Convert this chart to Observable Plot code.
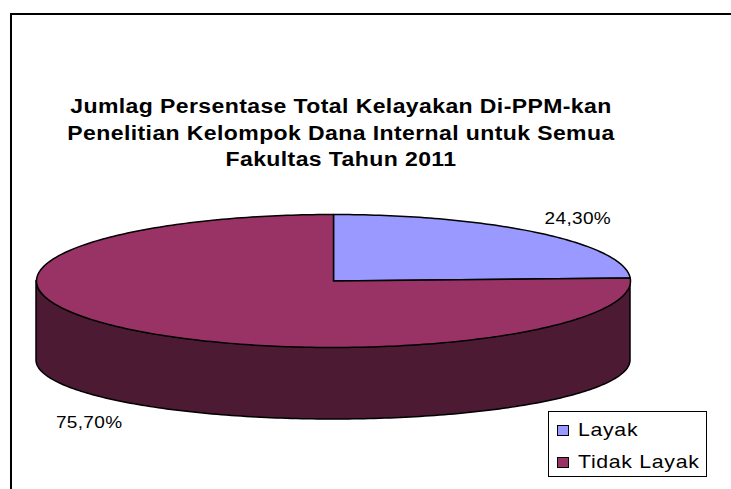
<!DOCTYPE html>
<html>
<head>
<meta charset="utf-8">
<script src="https://cdn.jsdelivr.net/npm/d3@7"></script>
<script src="https://cdn.jsdelivr.net/npm/@observablehq/plot@0.6"></script>
<style>
  html, body { margin: 0; padding: 0; background: #fff; overflow: hidden; }
  #wrap { position: relative; width: 731px; height: 489px; overflow: hidden; font-family: "Liberation Sans", Arial, sans-serif; }
  #frame { position: absolute; left: 10px; top: 13px; width: 800px; height: 600px; border-left: 2px solid #000; border-top: 2px solid #000; box-sizing: border-box; }
  #title { position: absolute; left: 0; top: 93px; width: 682px; text-align: center; font-weight: bold; font-size: 20px; line-height: 26.5px; letter-spacing: 0.35px; color: #000; transform: scaleX(1.15); transform-origin: 341px 0; }
  #legend { position: absolute; left: 548px; top: 411px; width: 159px; height: 66px; border: 1px solid #000; box-sizing: border-box; background: #fff; padding-top: 2px; }
  .item { display: flex; align-items: center; height: 32px; font-size: 18.5px; color: #000; }
  .item span { display: inline-block; letter-spacing: 0.6px; transform: scaleX(1.15); transform-origin: 0 50%; white-space: nowrap; }
  .sw { width: 12px; height: 11px; border: 1px solid #000; box-sizing: border-box; margin-left: 8px; margin-right: 9px; flex: none; }
  #chart { position: absolute; left: 0; top: 0; }
</style>
</head>
<body>
<div id="wrap">
  <div id="chart"></div>
  <div id="frame"></div>
  <div id="title"></div>
  <div id="legend"></div>
</div>
<script>
// ---- data ----
const categories = ["Layak", "Tidak Layak"];
const values = [24.3, 75.7];
const valueLabels = ["24,30%", "75,70%"];
const titleLines = [
  "Jumlag Persentase Total Kelayakan Di-PPM-kan",
  "Penelitian Kelompok Dana Internal untuk Semua",
  "Fakultas Tahun 2011"
];
const topColors = ["#9999FF", "#993366"];
const sideColors = ["#4D4D80", "#4D1A33"];

// ---- layout of the 3D pie (pixels) ----
const cx = 333, cyTop = 280.5, rx = 297, ryTop = 66.5;
const cyBot = 360, ryBot = 59;
const rad = Math.PI / 180;

const total = d3.sum(values);
let acc = 0;
const slices = values.map((v, i) => {
  const a0 = acc / total * 360;
  acc += v;
  const a1 = acc / total * 360;
  return {cat: categories[i], label: valueLabels[i], a0, a1, i};
});

function topPt(t) { return [cx + rx * Math.sin(t * rad), cyTop - ryTop * Math.cos(t * rad)]; }

// top face polygons
const topPts = [];
for (const s of slices) {
  topPts.push({cat: s.cat, x: cx, y: cyTop});
  const n = Math.max(2, Math.ceil(s.a1 - s.a0));
  for (let k = 0; k <= n; k++) {
    const t = s.a0 + (s.a1 - s.a0) * k / n;
    const [x, y] = topPt(t);
    topPts.push({cat: s.cat, x, y});
  }
}

// visible side (front half: 90..270 deg)
const sideMarks = [];
for (const s of slices) {
  const b0 = Math.max(s.a0, 90), b1 = Math.min(s.a1, 270);
  if (b1 <= b0) continue;
  const pts = [];
  const n = Math.max(2, Math.ceil(b1 - b0));
  for (let k = 0; k <= n; k++) {
    const t = b0 + (b1 - b0) * k / n;
    pts.push({
      x: cx + rx * Math.sin(t * rad),
      y1: cyTop - ryTop * Math.cos(t * rad),
      y2: cyBot - ryBot * Math.cos(t * rad)
    });
  }
  sideMarks.push(Plot.areaY(pts, {x: "x", y1: "y1", y2: "y2", fill: sideColors[s.i], stroke: "#000", strokeWidth: 1.5, strokeLinejoin: "round"}));
}

// data labels (placed outside the pie along the slice's mid angle)
const labelKx = 1.19, labelKy = 1.3;
const labelData = slices.map(s => {
  const m = (s.a0 + s.a1) / 2;
  const c = Math.cos(m * rad);
  const front = c < 0;
  return {
    label: s.label,
    x: cx + labelKx * rx * Math.sin(m * rad),
    y: cyTop - labelKy * ryTop * c + (front ? (cyBot - cyTop) : 0)
  };
});

const chart = Plot.plot({
  width: 731,
  height: 489,
  margin: 0,
  x: {domain: [0, 731], range: [0, 731], axis: null},
  y: {domain: [0, 489], range: [0, 489], axis: null},
  color: {domain: categories, range: topColors},
  style: {fontFamily: "'Liberation Sans', Arial, sans-serif", letterSpacing: "0.3px", background: "transparent"},
  marks: [
    ...sideMarks,
    Plot.line(topPts, {x: "x", y: "y", z: "cat", fill: "cat", stroke: "#000", strokeWidth: 1.5, curve: "linear-closed", strokeLinejoin: "round"}),
    Plot.text(labelData, {x: "x", y: "y", text: "label", fontSize: 17, fill: "#000", textAnchor: "middle"})
  ]
});
// widen the label glyphs slightly like the reference rendering
d3.select(chart).selectAll("g[aria-label='text'] text").each(function () {
  const t = this.getAttribute("transform") || "";
  this.setAttribute("transform", t + " scale(1.12,1)");
});
document.getElementById("chart").appendChild(chart);

document.getElementById("title").innerHTML = titleLines.join("<br>");

const legend = d3.select("#legend");
categories.forEach((c, i) => {
  const it = legend.append("div").attr("class", "item");
  it.append("div").attr("class", "sw").style("background", topColors[i]);
  it.append("span").text(c);
});
</script>
</body>
</html>
